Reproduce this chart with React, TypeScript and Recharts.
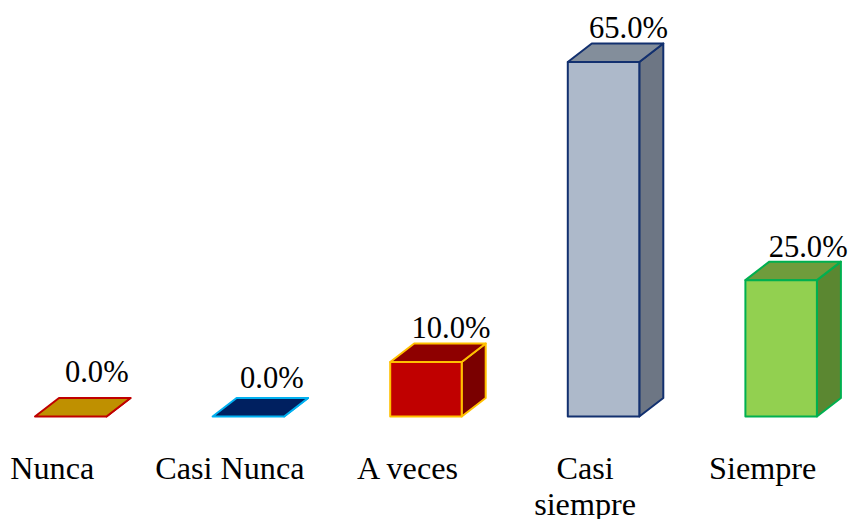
import React from 'react'
import { BarChart, Bar, XAxis, YAxis, LabelList } from 'recharts'

const categories = ['Nunca', 'Casi Nunca', 'A veces', 'Casi siempre', 'Siempre']
const values = [0, 0, 10, 65, 25]
// "Casi siempre" is the only label broken on two lines
const tickLines = [['Nunca'], ['Casi Nunca'], ['A veces'], ['Casi', 'siempre'], ['Siempre']]

const frontColors = ['#bf9000', '#002060', '#c00000', '#adb9ca', '#92d050']
const topColors = ['#bf9000', '#002060', '#8e0000', '#838e9b', '#6f9c3c']
const sideColors = ['#bf9000', '#002060', '#7a0000', '#6d7684', '#5b8731']
const edgeColors = ['#c00000', '#00b0f0', '#ffc000', '#12306f', '#00b050']

// the two zero labels sit at slightly different heights
const labelShift = [-35, -29, -24, -24, -23]
const labelNudge = [26, 23.5, 25, 25, 27]

const data = categories.map((name, i) => ({ name, value: values[i] }))

const DEPTH_X = 24
const DEPTH_Y = 18.5
const FONT = '"Liberation Serif", serif'

const Box3D = (props: any) => {
  const { x, y, width, height, index } = props
  const edge = edgeColors[index]
  const common = { stroke: edge, strokeWidth: 2, strokeLinejoin: 'round' as const }
  const r = x + width
  const b = y + height
  return (
    <g>
      <polygon
        points={`${r},${y} ${r + DEPTH_X},${y - DEPTH_Y} ${r + DEPTH_X},${b - DEPTH_Y} ${r},${b}`}
        fill={sideColors[index]}
        {...common}
      />
      <polygon
        points={`${x},${y} ${x + DEPTH_X},${y - DEPTH_Y} ${r + DEPTH_X},${y - DEPTH_Y} ${r},${y}`}
        fill={topColors[index]}
        {...common}
      />
      <rect x={x} y={y} width={width} height={height} fill={frontColors[index]} {...common} />
    </g>
  )
}

const ValueLabel = (props: any) => {
  const { x, y, width, value, index } = props
  return (
    <text
      x={x + width / 2 + labelNudge[index]}
      y={y + labelShift[index]}
      textAnchor="middle"
      fontFamily={FONT}
      fontSize={30.6}
      fill="#000"
    >
      {value.toFixed(1)}%
    </text>
  )
}

const CategoryTick = (props: any) => {
  const { x, y, index } = props
  return (
    <text x={x - 18.5} y={y + 62.5} textAnchor="middle" fontFamily={FONT} fontSize={32.2} fill="#000">
      {tickLines[index].map((line, i) => (
        <tspan key={line} x={x - 18.5} dy={i === 0 ? 0 : 36}>
          {line}
        </tspan>
      ))}
    </text>
  )
}

const App = () => {
  return (
    <div style={{ position: 'absolute', left: 0, top: 0, width: 849, height: 519, overflow: 'hidden', background: '#fff' }}>
      <div style={{ position: 'absolute', left: -18, top: 0 }}>
        <BarChart
          width={888}
          height={519}
          data={data}
          barSize={71.5}
          margin={{ top: 7.4, right: 0, bottom: 0, left: 0 }}
        >
          <XAxis
            dataKey="name"
            height={102.5}
            axisLine={false}
            tickLine={false}
            tickSize={0}
            tickMargin={0}
            interval={0}
            tick={<CategoryTick />}
          />
          <YAxis hide domain={[0, 75]} />
          <Bar dataKey="value" isAnimationActive={false} shape={<Box3D />}>
            <LabelList dataKey="value" content={<ValueLabel />} />
          </Bar>
        </BarChart>
      </div>
    </div>
  )
}

export default App
